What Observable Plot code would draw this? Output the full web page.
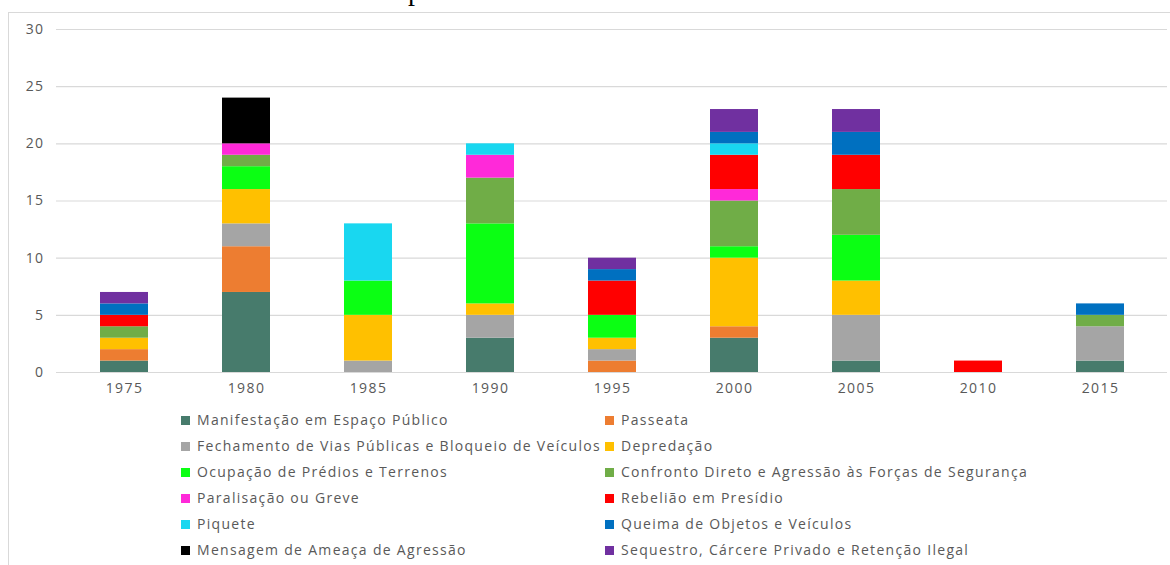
<!DOCTYPE html>
<html>
<head>
<meta charset="utf-8">
<script src="https://cdn.jsdelivr.net/npm/d3@7"></script>
<script src="https://cdn.jsdelivr.net/npm/@observablehq/plot@0.6"></script>
<style>
  html, body { margin: 0; padding: 0; background: #fff; }
  #wrap { position: relative; width: 1170px; height: 565px; overflow: hidden; font-family: "Open Sans", sans-serif; }
  #frame { position: absolute; left: 8px; top: 12px; width: 1200px; height: 600px; border-left: 1px solid #d9d9d9; border-top: 1px solid #d9d9d9; }
  #cut { position: absolute; left: 408px; top: -23px; font-family: "Liberation Serif", serif; font-size: 28px; line-height: 1; color: #000; }
  #chart { position: absolute; left: 0; top: 0; }
  .leg { position: absolute; font-size: 14px; letter-spacing: 1.3px; color: #595959; white-space: nowrap; line-height: 18px; }
  .leg span.sw { display: inline-block; width: 9px; height: 9px; margin-right: 7px; vertical-align: 0px; }
</style>
</head>
<body>
<div id="wrap">
  <div id="frame"></div>
  <div id="cut">p</div>
  <div id="chart"></div>
  <div id="legend"></div>
</div>
<script>
const years = ["1975", "1980", "1985", "1990", "1995", "2000", "2005", "2010", "2015"];
const series = [
  "Manifestação em Espaço Público",
  "Passeata",
  "Fechamento de Vias Públicas e Bloqueio de Veículos",
  "Depredação",
  "Ocupação de Prédios e Terrenos",
  "Confronto Direto e Agressão às Forças de Segurança",
  "Paralisação ou Greve",
  "Rebelião em Presídio",
  "Piquete",
  "Queima de Objetos e Veículos",
  "Mensagem de Ameaça de Agressão",
  "Sequestro, Cárcere Privado e Retenção Ilegal"
];
const colors = ["#477B6C", "#ED7D31", "#A5A5A5", "#FFC000", "#0BFF13", "#70AD47", "#FF29D9", "#FF0000", "#19D7F0", "#0070C0", "#000000", "#7030A0"];

// values per series, in year order
const manifestacao = [1, 7, 0, 3, 0, 3, 1, 0, 1];
const passeata     = [1, 4, 0, 0, 1, 1, 0, 0, 0];
const fechamento   = [0, 2, 1, 2, 1, 0, 4, 0, 3];
const depredacao   = [1, 3, 4, 1, 1, 6, 3, 0, 0];
const ocupacao     = [0, 2, 3, 7, 2, 1, 4, 0, 0];
const confronto    = [1, 1, 0, 4, 0, 4, 4, 0, 1];
const paralisacao  = [0, 1, 0, 2, 0, 1, 0, 0, 0];
const rebeliao     = [1, 0, 0, 0, 3, 3, 3, 1, 0];
const piquete      = [0, 0, 5, 1, 0, 1, 0, 0, 0];
const queima       = [1, 0, 0, 0, 1, 1, 2, 0, 1];
const mensagem     = [0, 4, 0, 0, 0, 0, 0, 0, 0];
const sequestro    = [1, 0, 0, 0, 1, 2, 2, 0, 0];
const values = [manifestacao, passeata, fechamento, depredacao, ocupacao, confronto, paralisacao, rebeliao, piquete, queima, mensagem, sequestro];
const yTicks = [0, 5, 10, 15, 20, 25, 30];

const data = [];
years.forEach((yr, i) => {
  series.forEach((s, j) => {
    if (values[j][i] > 0) data.push({year: yr, series: s, value: values[j][i]});
  });
});

const chart = Plot.plot({
  width: 1170,
  height: 400,
  marginLeft: 56,
  marginRight: 3,
  marginTop: 29,
  marginBottom: 28,
  style: {fontFamily: "'Open Sans', sans-serif", fontSize: "14px", letterSpacing: "1.4px", color: "#595959", background: "transparent"},
  x: {domain: years, label: null, paddingInner: 0.607, paddingOuter: 0.34, tickSize: 0, tickPadding: 11},
  y: {domain: [0, 30], ticks: yTicks, label: null, tickSize: 0, tickPadding: 12},
  color: {domain: series, range: colors},
  marks: [
    Plot.gridY(yTicks, {stroke: "#d9d9d9", strokeOpacity: 1, strokeWidth: 1.2}),
    Plot.barY(data, {x: "year", y: "value", fill: "series", order: series}),
    Plot.ruleY([0], {stroke: "#d9d9d9", strokeWidth: 1.2})
  ]
});
document.getElementById("chart").appendChild(chart);

const legend = document.getElementById("legend");
series.forEach((s, j) => {
  const col = j % 2, row = Math.floor(j / 2);
  const d = document.createElement("div");
  d.className = "leg";
  d.style.left = (col === 0 ? 181 : 605) + "px";
  d.style.top = (411 + row * 26) + "px";
  d.innerHTML = `<span class="sw" style="background:${colors[j]}"></span>`;
  d.appendChild(document.createTextNode(s));
  legend.appendChild(d);
});
</script>
</body>
</html>
